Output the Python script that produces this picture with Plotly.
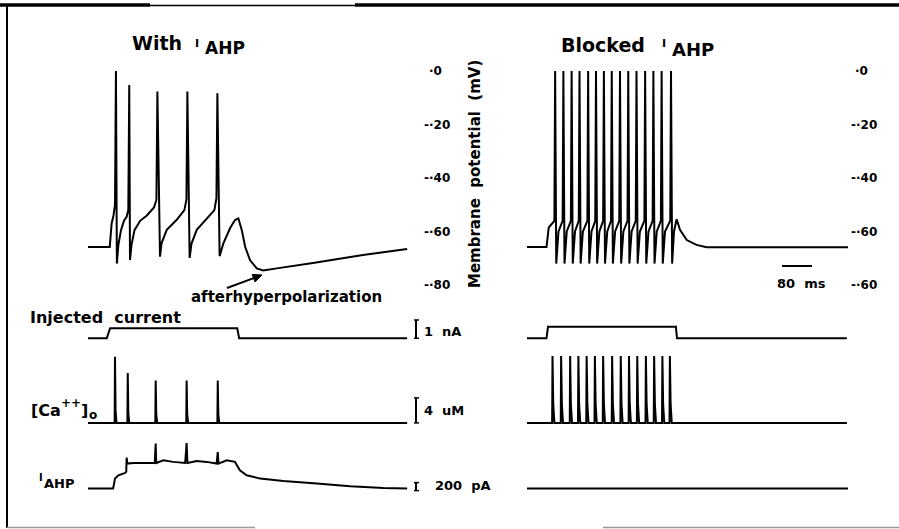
import plotly.graph_objects as go

W, H = 899, 529
FONT = "DejaVu Sans"

# ---------------- data (time in ms) ----------------
# Left column: with I_AHP
t_v_left = [0, 58, 63, 68, 72, 74.5, 77, 81, 88, 96, 103, 107.5, 110, 112, 116, 124, 139, 157, 176, 182.5, 185, 192,
            196, 210, 236, 257, 262.5, 265, 271, 276, 290, 316, 337, 342.5, 345, 351, 361, 379, 392, 401, 410, 419,
            432, 450, 467, 512, 600, 733, 832, 851]
v_left = [-65.8, -65.8, -57, -54, -50, 0, -72, -65, -59.5, -56, -54.5, -52, -5.2, -70.7, -65, -59.5, -56, -54, -51, -48.2, -7.7, -69.4,
          -64.4, -59.4, -55.7, -52, -48, -7.7, -69.9, -64.5, -59.4, -55.5, -52, -47.5, -8.3, -69.2, -64.4, -58.7, -55.7, -55.1, -59.4, -65.7,
          -70.7, -73.8, -74.6, -73.6, -71.8, -68.8, -66.9, -66.5]

t_inj_left = [0, 50, 59, 398, 403, 851]
inj_left = [0, 0, 0.55, 0.55, 0, 0]

t_ca_left = [0, 71, 72, 73.5, 76, 105, 106, 107.5, 110, 179.5, 180.5, 182, 184.5, 262, 263, 264.5, 267, 345, 346, 347.5, 350, 851]
ca_left = [0, 0, 10.6, 2, 0, 0, 8.0, 1.6, 0, 0, 6.8, 1.4, 0, 0, 6.8, 1.4, 0, 0, 6.8, 1.4, 0, 0]

t_ahp_left = [0, 67, 72, 81, 99, 102, 103, 105, 121, 178, 180.5, 182, 201, 227, 259, 263, 265, 290, 316, 343,
              346, 348, 370, 392, 405, 423, 459, 521, 610, 699, 788, 851]
ahp_left = [0, 0, 250, 333, 390, 425, 775, 625, 640, 640, 1125, 640, 708, 668, 640, 1140, 640, 690, 668, 625,
            915, 625, 708, 668, 458, 333, 250, 190, 125, 58, 15, 0]

# Right column: blocked I_AHP
t_v_right = [0, 52, 58, 66,
             73, 75, 78, 84, 95, 97, 100, 106, 117, 119, 122, 128, 138, 140, 143, 149,
             161, 163, 166, 172, 182, 184, 187, 193, 203, 205, 208, 214, 224, 226, 229, 235,
             246, 248, 251, 257, 268, 270, 273, 279, 290, 292, 295, 301, 313, 315, 318, 324,
             335, 337, 340, 346, 357, 359, 362, 368, 382, 384, 387,
             392, 399, 408, 426, 452, 479, 856]
v_right = [-65.8, -65.8, -58.5, -57,
           -56, 0, -72, -60, -56, 0, -72, -60, -56, 0, -72, -60, -56, 0, -72, -60,
           -56, 0, -72, -60, -56, 0, -72, -60, -56, 0, -72, -60, -56, 0, -72, -60,
           -56, 0, -72, -60, -56, 0, -72, -60, -56, 0, -72, -60, -56, 0, -72, -60,
           -56, 0, -72, -60, -56, 0, -72, -60, -56, 0, -72,
           -60, -55.4, -59.4, -63.2, -65, -65.9, -65.9]

t_inj_right = [0, 52, 56, 397, 400, 853]
inj_right = [0, 0, 0.63, 0.63, 0, 0]

t_ca_right = [0, 67, 68, 70, 73, 90, 91, 93, 96, 114, 115, 117, 120, 136, 137, 139, 142,
              158, 159, 161, 164, 180, 181, 183, 186, 202, 203, 205, 208, 226, 227, 229, 232,
              249, 250, 252, 255, 271, 272, 274, 277, 293, 294, 296, 299, 316, 317, 319, 322,
              338, 339, 341, 344, 360, 361, 363, 366, 380, 381, 383, 386, 853]
ca_right = [0, 0, 10.7, 3, 0, 0, 10.7, 3, 0, 0, 10.7, 3, 0, 0, 10.7, 3, 0,
            0, 10.7, 3, 0, 0, 10.7, 3, 0, 0, 10.7, 3, 0, 0, 10.7, 3, 0,
            0, 10.7, 3, 0, 0, 10.7, 3, 0, 0, 10.7, 3, 0, 0, 10.7, 3, 0,
            0, 10.7, 3, 0, 0, 10.7, 3, 0, 0, 10.7, 3, 0, 0]

t_ahp_right = [0, 856]
ahp_right = [0, 0]

v_ticks = [0, -20, -40, -60, -80]
v_ticktext_left = ["·0", "-·20", "-·40", "-·60", "-·80"]
v_ticktext_right = ["·0", "-·20", "-·40", "-·60", "-·60"]

# ---------------- layout geometry (pixels) ----------------
X0_LEFT, X0_RIGHT, PX_PER_MS = 88, 527, 0.375
Y0_V, PX_PER_MV = 71, 2.675
Y0_INJ, PX_PER_NA = 338.3, 18.3
Y0_CA, PX_PER_UM = 422.9, 6.25
Y0_AHP, PX_PER_PA = 488.6, 0.04


def px2x(px):
    return px / W


def py2y(py):
    return 1 - py / H


def xrange(x0):
    return [(0 - x0) / PX_PER_MS, (W - x0) / PX_PER_MS]


def yrange(y0, k):
    return [(y0 - H) / k, y0 / k]


line = dict(color="black", width=2)
fig = go.Figure()
series = [
    (t_v_left, v_left, "x", "y"), (t_v_right, v_right, "x2", "y"),
    (t_inj_left, inj_left, "x", "y2"), (t_inj_right, inj_right, "x2", "y2"),
    (t_ca_left, ca_left, "x", "y3"), (t_ca_right, ca_right, "x2", "y3"),
    (t_ahp_left, ahp_left, "x", "y4"), (t_ahp_right, ahp_right, "x2", "y4"),
]
for xs, ys, xa, ya in series:
    fig.add_trace(go.Scatter(x=xs, y=ys, mode="lines", line=line, xaxis=xa, yaxis=ya,
                             showlegend=False, hoverinfo="skip"))

ax_common = dict(visible=False, domain=[0, 1], fixedrange=True)
fig.update_layout(
    width=W, height=H, margin=dict(l=0, r=0, t=0, b=0),
    paper_bgcolor="white", plot_bgcolor="rgba(0,0,0,0)",
    font=dict(family=FONT, color="black"),
    xaxis=dict(range=xrange(X0_LEFT), **ax_common),
    xaxis2=dict(range=xrange(X0_RIGHT), overlaying="x", **ax_common),
    yaxis=dict(range=yrange(Y0_V, PX_PER_MV), **ax_common),
    yaxis2=dict(range=yrange(Y0_INJ, PX_PER_NA), overlaying="y", **ax_common),
    yaxis3=dict(range=yrange(Y0_CA, PX_PER_UM), overlaying="y", **ax_common),
    yaxis4=dict(range=yrange(Y0_AHP, PX_PER_PA), overlaying="y", **ax_common),
)

shapes = []


def pline(x0, y0, x1, y1, width=2, color="black"):
    shapes.append(dict(type="line", xref="paper", yref="paper", x0=px2x(x0), y0=py2y(y0),
                       x1=px2x(x1), y1=py2y(y1), line=dict(color=color, width=width)))


# frame
pline(0, 5, 150, 5, 3.5)
pline(150, 5.5, 355, 5.5, 1.5)
pline(355, 5, 899, 5, 3.5)
pline(7, 4, 7, 528, 2)
pline(7, 527.5, 255, 527.5, 1.5, "#9a9a9a")
pline(603, 527.5, 899, 527.5, 1.5, "#9a9a9a")


def vbar(px, yref, v0, v1):
    shapes.append(dict(type="line", xref="paper", yref=yref, x0=px2x(px), x1=px2x(px), y0=v0, y1=v1,
                       line=dict(color="black", width=2)))
    for v in (v0, v1):
        shapes.append(dict(type="line", xref="paper", yref=yref, x0=px2x(px - 2), x1=px2x(px + 3), y0=v, y1=v,
                           line=dict(color="black", width=1.5)))


vbar(416, "y2", 0, 1)       # 1 nA
vbar(416, "y3", 0, 4)       # 4 uM
vbar(416, "y4", -50, 150)   # 200 pA
# 80 ms time bar
shapes.append(dict(type="line", xref="x2", yref="paper", x0=680, x1=760, y0=py2y(266), y1=py2y(266),
                   line=dict(color="black", width=2)))

# arrow pointing at the afterhyperpolarization trough (tail -> head, pixels)
tail, tip = (227, 288), (262, 275)
pline(tail[0], tail[1], 255, 277.6, 2)
c1, c2 = (255.0, 281.9), (252.2, 274.4)
shapes.append(dict(type="path", xref="paper", yref="paper",
                   path="M {} {} L {} {} L {} {} Z".format(px2x(tip[0]), py2y(tip[1]), px2x(c1[0]), py2y(c1[1]),
                                                          px2x(c2[0]), py2y(c2[1])),
                   fillcolor="black", line=dict(color="black", width=1)))
fig.update_layout(shapes=shapes)

ann = []


def label(text, px, py, size, xanchor="left", yanchor="middle", angle=0):
    ann.append(dict(text=text, x=px2x(px), y=py2y(py), xref="paper", yref="paper", showarrow=False,
                    xanchor=xanchor, yanchor=yanchor, textangle=angle,
                    font=dict(size=size, color="black", family=FONT)))


NB = "\u00a0"
label("<b>With</b>", 130, 43, 19)
label("<b>I</b>", 193, 43, 11)
label("<b>AHP</b>", 203, 48, 17)
label("<b>Blocked</b>", 559, 45, 19)
label("<b>I</b>", 660, 43, 11)
label("<b>AHP</b>", 670, 49, 18)
label("<b>Membrane" + NB * 2 + "potential" + NB * 2 + "(mV)</b>", 475, 174, 15, "center", "middle", -90)
label("<b>afterhyperpolarization</b>", 189, 297, 15)
label("<b>Injected" + NB * 2 + "current</b>", 28, 317, 16)
# [Ca++]o built from pieces (raised ++, lowered o)
label("<b>[Ca</b>", 29, 410, 16)
label("<b>++</b>", 59, 403, 12)
label("<b>]</b>", 79, 410, 16)
label("<b>o</b>", 87, 415, 12)
label("<b>I</b>", 37, 477, 10)
label("<b>AHP</b>", 42, 483, 13)
label("<b>1" + NB * 2 + "nA</b>", 422, 331, 13)
label("<b>4" + NB * 2 + "uM</b>", 422, 410, 13)
label("<b>200" + NB * 2 + "pA</b>", 433, 485, 13)
label("<b>80" + NB * 2 + "ms</b>", 801, 283, 13, "center")

for v, tl, tr in zip(v_ticks, v_ticktext_left, v_ticktext_right):
    for txt, xl in ((tl, 422 if v else 427), (tr, 849 if v else 853)):
        ann.append(dict(text="<b>" + txt + "</b>", x=px2x(xl), y=v, xref="paper", yref="y", showarrow=False,
                        xanchor="left", yanchor="middle", font=dict(size=12, color="black", family=FONT)))

fig.update_layout(annotations=ann)

fig.write_html("out.html")
